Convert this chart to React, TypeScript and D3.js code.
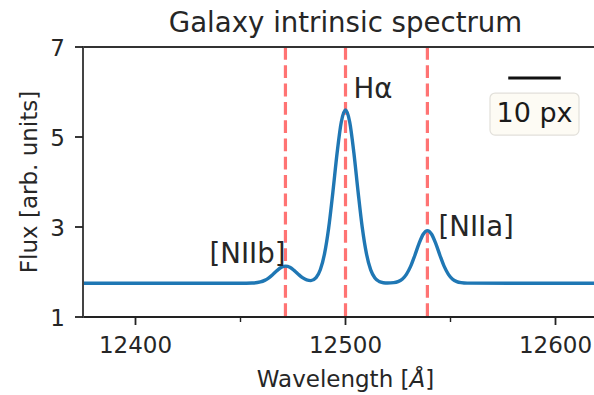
import * as d3 from 'd3'

// wavelength samples [Å] and flux
const WAVE = [
  12375, 12450, 12455.5, 12459.5, 12461.5, 12463.5, 12465.5, 12467.5, 12469.5, 12471.5,
  12473.5, 12475.5, 12477.5, 12479.5, 12481.5, 12483.5, 12486, 12488, 12490, 12492,
  12494, 12496, 12498, 12500, 12502, 12504, 12506, 12508, 12510, 12512,
  12514, 12516, 12518, 12520, 12523, 12525, 12527, 12529, 12531, 12533,
  12535, 12537, 12539, 12541, 12543, 12545, 12547, 12549, 12551, 12553,
  12555, 12558, 12625,
]
const FLUX = [
  1.75, 1.75, 1.754, 1.779, 1.814, 1.872, 1.95, 2.036, 2.104, 2.13,
  2.104, 2.036, 1.951, 1.874, 1.823, 1.809, 1.876, 2.049, 2.402, 2.982,
  3.779, 4.645, 5.334, 5.6, 5.334, 4.645, 3.779, 2.982, 2.401, 2.046,
  1.867, 1.79, 1.762, 1.755, 1.763, 1.786, 1.84, 1.948, 2.124, 2.367,
  2.63, 2.839, 2.92, 2.839, 2.63, 2.367, 2.124, 1.948, 1.84, 1.786,
  1.763, 1.752, 1.75,
]

// emission line positions (dashed markers)
const LINE_WAVES = [12471.4, 12500, 12539]
const LABELS = [
  { text: '[NIIb]', x: 12471.4, y: 2.2, anchor: 'end' },
  { text: 'Hα', x: 12503.8, y: 5.87, anchor: 'start' },
  { text: '[NIIa]', x: 12544.3, y: 2.8, anchor: 'start' },
]

const X_TICKS = [12400, 12500, 12600]
const X_MINOR = [12450, 12550]
const Y_TICKS = [1, 3, 5, 7]

// scale bar (25 Å wide)
const BAR = { x0: 12577.5, x1: 12602.5, y: 6.31, label: '10 px' }

const W = 594
const H = 395
const FONT = '"DejaVu Sans", sans-serif'

export default function App() {
  const x = d3.scaleLinear().domain([12375, 12625]).range([83, 608])
  const y = d3.scaleLinear().domain([1, 7]).range([317, 47])
  const pts = WAVE.map((w, i) => [w, FLUX[i]] as [number, number])
  const line = d3.line<[number, number]>()
    .x(d => x(d[0]))
    .y(d => y(d[1]))
    .curve(d3.curveMonotoneX)

  const [r0, r1] = x.range()
  const [b, t] = y.range()
  const barMid = (x(BAR.x0) + x(BAR.x1)) / 2

  return (
    <svg width={W} height={H} style={{ position: 'absolute', left: 0, top: 0, background: '#fff' }}
      fontFamily={FONT}>
      <defs>
        <clipPath id="plot"><rect x={r0} y={t} width={r1 - r0} height={b - t} /></clipPath>
      </defs>

      <g clipPath="url(#plot)">
        {LINE_WAVES.map(w => (
          <line key={w} x1={x(w)} x2={x(w)} y1={t} y2={b} stroke="#ff5a5a" strokeOpacity={0.85}
            strokeWidth={3.2} strokeDasharray="12.8,5.5" />
        ))}
        <path d={line(pts) ?? ''} fill="none" stroke="#1f77b4" strokeWidth={3.4} strokeLinejoin="round" />
      </g>

      {/* spines */}
      <line x1={r0} x2={r1} y1={t} y2={t} stroke="#333" strokeWidth={2} />
      <line x1={r0} x2={r1} y1={b} y2={b} stroke="#222" strokeWidth={2} />
      <line x1={r0} x2={r0} y1={t - 1} y2={b + 1} stroke="#444" strokeWidth={2} />

      {/* x axis */}
      {X_TICKS.map(v => (
        <g key={v}>
          <line x1={x(v)} x2={x(v)} y1={b} y2={b + 8} stroke="#222" strokeWidth={1.8} />
          <text x={x(v)} y={b + 36} textAnchor="middle" fontSize={23} fill="#262626">{v}</text>
        </g>
      ))}
      {X_MINOR.map(v => (
        <line key={v} x1={x(v)} x2={x(v)} y1={b} y2={b + 5} stroke="#222" strokeWidth={1.4} />
      ))}
      <text x={(r0 + r1) / 2} y={387} textAnchor="middle" fontSize={23} fill="#262626">
        Wavelength [<tspan fontStyle="italic">Å</tspan>]
      </text>

      {/* y axis */}
      {Y_TICKS.map(v => (
        <g key={v}>
          <line x1={r0 - 8} x2={r0} y1={y(v)} y2={y(v)} stroke="#222" strokeWidth={1.8} />
          <text x={r0 - 18} y={y(v)} dy="0.38em" textAnchor="end" fontSize={23} fill="#262626">{v}</text>
        </g>
      ))}
      <text transform={`translate(37,${(t + b) / 2}) rotate(-90)`} textAnchor="middle" fontSize={23} fill="#262626">
        Flux [arb. units]
      </text>

      {/* title */}
      <text x={(r0 + r1) / 2} y={32} textAnchor="middle" fontSize={27.6} fill="#262626">
        Galaxy intrinsic spectrum
      </text>

      {/* line labels */}
      {LABELS.map(l => (
        <text key={l.text} x={x(l.x)} y={y(l.y)} textAnchor={l.anchor} fontSize={27.6} fill="#262626">
          {l.text}
        </text>
      ))}

      {/* scale bar */}
      <line x1={x(BAR.x0)} x2={x(BAR.x1)} y1={y(BAR.y)} y2={y(BAR.y)} stroke="#111" strokeWidth={3} />
      <rect x={barMid - 44.5} y={y(BAR.y) + 15} width={89} height={42} rx={5}
        fill="#fdfbf4" stroke="#e2e0da" strokeWidth={1.2} />
      <text x={barMid} y={y(BAR.y) + 44} textAnchor="middle" fontSize={27} fill="#1a1a1a">{BAR.label}</text>
    </svg>
  )
}
